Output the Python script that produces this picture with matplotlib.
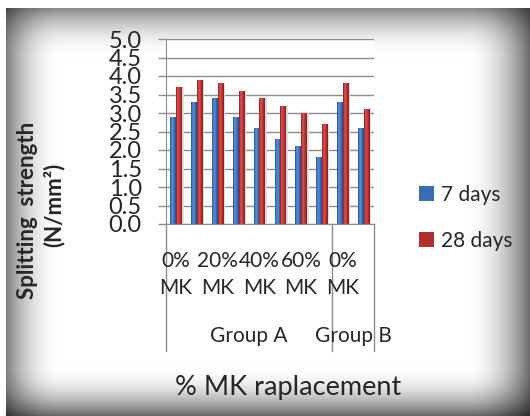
import numpy as np
import matplotlib
matplotlib.use("Agg")
import matplotlib.pyplot as plt
from matplotlib.patches import Patch
from matplotlib.colors import LinearSegmentedColormap

# ---- data ----
category_labels = ["0% MK", "", "20% MK", "", "40% MK", "", "60% MK", "", "0% MK", ""]
groups = ["Group A", "Group B"]
group_sizes = [8, 2]
series_names = ["7 days", "28 days"]
strength_7d = [2.9, 3.3, 3.4, 2.9, 2.6, 2.3, 2.1, 1.8, 3.3, 2.6]
strength_28d = [3.7, 3.9, 3.8, 3.6, 3.4, 3.2, 3.0, 2.7, 3.8, 3.1]
y_ticks = [0.0, 0.5, 1.0, 1.5, 2.0, 2.5, 3.0, 3.5, 4.0, 4.5, 5.0]

plt.rcParams['font.family'] = ['Lato', 'DejaVu Sans']

W, H = 530, 416
fig = plt.figure(figsize=(W / 100, H / 100), dpi=100)
fig.patch.set_facecolor('white')

# ---- shaded frame behind the chart ----
yy, xx = np.mgrid[0:H, 0:W] + 0.5
def falloff(d, depth, span):
    t = np.clip(1 - d / span, 0, 1)
    return depth * t ** 2
left, top = 6, 8
bright = ((1 - falloff(xx - left, 0.50, 55)) * (1 - falloff(W - xx, 0.58, 65))
          * (1 - falloff(yy - top, 0.46, 50)) * (1 - falloff(H - yy, 0.60, 50)))
bright[(xx < left) | (yy < top)] = 1.0
bg = fig.add_axes([0, 0, 1, 1], zorder=-10)
bg.imshow(np.dstack([bright] * 3), extent=(0, W, H, 0), aspect='auto', interpolation='bilinear')
bg.set_xlim(0, W); bg.set_ylim(H, 0)
bg.axis('off')

# ---- plot area ----
px_l, px_r, px_t, px_b = 165.7, 374.0, 39.0, 224.0
ax = fig.add_axes([px_l / W, 1 - px_b / H, (px_r - px_l) / W, (px_b - px_t) / H])
ax.set_facecolor('white')
n = len(strength_7d)
x = np.arange(n)
bw = 0.27

grid_c = '#8c8c8c'
for yt in y_ticks:
    ax.axhline(yt, color=grid_c, lw=1.0, zorder=0.5)

blue_cmap = LinearSegmentedColormap.from_list('b', ['#234f8d', '#5b93dc', '#3f74bf', '#214b88'])
red_cmap = LinearSegmentedColormap.from_list('r', ['#8c1d1d', '#dc5454', '#b93333', '#861b1b'])

# soft shadows to the right of each bar
ax.bar(x - bw / 2 + 0.09, strength_7d, bw, color='#dcdcdc', zorder=1)
ax.bar(x + bw / 2 + 0.09, strength_28d, bw, color='#dcdcdc', zorder=1)
b7 = ax.bar(x - bw / 2, strength_7d, bw, color='#3a6db4', zorder=2, label=series_names[0])
b28 = ax.bar(x + bw / 2, strength_28d, bw, color='#b03030', zorder=2, label=series_names[1])

grad = np.linspace(0, 1, 64).reshape(1, -1)
for bars, cmap in ((b7, blue_cmap), (b28, red_cmap)):
    for b in bars:
        bx, by = b.get_xy()
        im = ax.imshow(grad, cmap=cmap, extent=(bx, bx + b.get_width(), by, by + b.get_height()),
                       aspect='auto', zorder=2.1, interpolation='bilinear')
        im.set_clip_path(b)

ax.set_xlim(-0.5, n - 0.5)
ax.set_ylim(0, 5)
ax.set_yticks(y_ticks)
ax.set_yticklabels([f"{v:.1f}" for v in y_ticks])
ax.tick_params(axis='y', length=5.8, width=1, color=grid_c, pad=11.5, labelsize=17, labelcolor='#262626')
ax.set_xticks([])
for s in ('top', 'right'):
    ax.spines[s].set_visible(False)
ax.spines['left'].set_color(grid_c)
ax.spines['bottom'].set_color(grid_c)

# category labels (two lines each) and group labels
axis_h = px_b - px_t
def ay(py):
    return (px_b - py) / axis_h
tx = ax.get_xaxis_transform()
for i, lab in enumerate(category_labels):
    if not lab:
        continue
    first, second = lab.split(' ')
    ax.text(i, ay(261), first, transform=tx, ha='center', va='center', fontsize=15, color='#262626')
    ax.text(i, ay(288), second, transform=tx, ha='center', va='center', fontsize=15, color='#262626')

bounds = np.concatenate([[0], np.cumsum(group_sizes)]) - 0.5
for bnd in bounds:
    ax.plot([bnd, bnd], [0, ay(351)], transform=tx, color=grid_c, lw=1.0, clip_on=False)
for g, a, b in zip(groups, bounds[:-1], bounds[1:]):
    ax.text((a + b) / 2, ay(336), g, transform=tx, ha='center', va='center', fontsize=15, color='#262626')

# axis titles
fig.text(28 / W, 1 - 210 / H, "Splitting  strength", rotation=90, ha='center', va='center',
         fontsize=16, fontweight='bold', color='#262626')
fig.text(54 / W, 1 - 205 / H, "(N/mm²)", rotation=90, ha='center', va='center',
         fontsize=16, fontweight='bold', color='#262626')
fig.text(288 / W, 1 - 387 / H, "% MK raplacement", ha='center', va='center', fontsize=19.5, color='#262626')

# legend
handles = [Patch(facecolor='#3a6db4'), Patch(facecolor='#b03030')]
fig.legend(handles, series_names, loc='center left', bbox_to_anchor=(400 / W, 1 - 218 / H),
           frameon=False, fontsize=15, handlelength=0.75, handleheight=0.75, handletextpad=0.3,
           labelspacing=1.25, labelcolor='#262626')

fig.savefig('out.png', dpi=100)
